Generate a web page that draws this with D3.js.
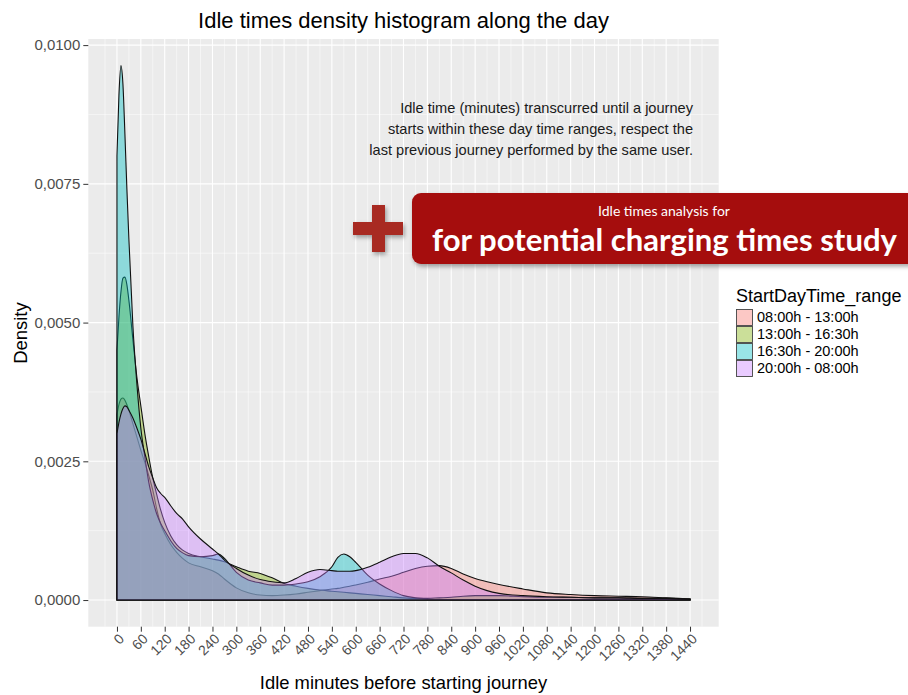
<!DOCTYPE html>
<html lang="en">
<head>
<meta charset="UTF-8">
<title>Idle times density histogram along the day</title>
<script src="https://cdnjs.cloudflare.com/ajax/libs/d3/7.8.5/d3.min.js"></script>
<style>
  body { margin: 0; background: #fff; }
  #chart { width: 908px; height: 695px; }
  text { font-family: "Liberation Sans", Arial, sans-serif; }
  .axis text { fill: #4d4d4d; }
  .axis line { stroke: #333; }
  .axis path { display: none; }
  .grid-major { stroke: #fff; stroke-width: 1.1; }
  .grid-minor { stroke: #fff; stroke-width: 0.55; stroke-opacity: 0.9; }
  .density { stroke: #111; stroke-width: 1.1; fill-opacity: 0.4; }
</style>
</head>
<body>
<div id="chart"></div>
<script>
// categories and colours (ggplot default hues)
var ranges = ["08:00h - 13:00h", "13:00h - 16:30h", "16:30h - 20:00h", "20:00h - 08:00h"];
var colors = ["#F8766D", "#7CAE00", "#00BFC4", "#C77CFF"];

var minutes = [0, 5, 10, 15, 20, 25, 30, 40, 50, 60, 70, 80, 90, 100, 110, 120, 135, 150, 165, 180,
  210, 240, 255, 270, 300, 330, 360, 390, 420, 450, 480, 510, 540, 555, 570, 585, 600, 630, 660, 690,
  720, 750, 780, 810, 840, 870, 900, 930, 960, 1020, 1080, 1140, 1200, 1260, 1320, 1380, 1440];

// density values per range
var dens0813 = [0.00334, 0.00352, 0.00362, 0.00364, 0.00360, 0.00352, 0.00342, 0.00318, 0.00294, 0.00270,
  0.00248, 0.00224, 0.00198, 0.00164, 0.00136, 0.00120, 0.00100, 0.00086, 0.00075, 0.00067,
  0.00060, 0.00053, 0.00047, 0.00038, 0.00022, 0.00013, 0.00009, 0.00008, 0.00009, 0.00011,
  0.00014, 0.00017, 0.00020, 0.00021, 0.00023, 0.00025, 0.00027, 0.00032, 0.00038, 0.00043,
  0.00050, 0.00057, 0.00061, 0.00062, 0.00057, 0.00047, 0.00039, 0.00033, 0.00028, 0.00020,
  0.00013, 0.00010, 0.00008, 0.00007, 0.00006, 0.00004, 0.00002];
var dens1316 = [0.00450, 0.00510, 0.00555, 0.00580, 0.00582, 0.00568, 0.00540, 0.00470, 0.00402, 0.00350,
  0.00300, 0.00258, 0.00220, 0.00190, 0.00162, 0.00140, 0.00116, 0.00100, 0.00090, 0.00084,
  0.00078, 0.00074, 0.00072, 0.00069, 0.00060, 0.00052, 0.00048, 0.00040, 0.00030, 0.00025,
  0.00021, 0.00018, 0.00016, 0.00015, 0.00014, 0.00013, 0.00012, 0.00010, 0.00008, 0.00006,
  0.00004, 0.00003, 0.00003, 0.00004, 0.00005, 0.00007, 0.00008, 0.00008, 0.00008, 0.00006,
  0.00005, 0.00005, 0.00004, 0.00004, 0.00003, 0.00003, 0.00002];
var dens1620 = [0.00800, 0.00910, 0.00963, 0.00930, 0.00840, 0.00740, 0.00650, 0.00495, 0.00390, 0.00310,
  0.00258, 0.00212, 0.00180, 0.00155, 0.00138, 0.00125, 0.00107, 0.00093, 0.00085, 0.00080,
  0.00078, 0.00080, 0.00083, 0.00075, 0.00050, 0.00036, 0.00031, 0.00027, 0.00027, 0.00029,
  0.00033, 0.00042, 0.00060, 0.00077, 0.00083, 0.00078, 0.00068, 0.00045, 0.00029, 0.00017,
  0.00008, 0.00004, 0.00002, 0.00001, 0.00001, 0.00001, 0.00001, 0.00001, 0.00001, 0.00001,
  0.00001, 0.00001, 0.00001, 0.00001, 0.00001, 0.00001, 0.00001];
var dens2008 = [0.00300, 0.00320, 0.00335, 0.00345, 0.00350, 0.00348, 0.00342, 0.00328, 0.00310, 0.00290,
  0.00265, 0.00240, 0.00220, 0.00202, 0.00192, 0.00185, 0.00170, 0.00156, 0.00146, 0.00132,
  0.00110, 0.00092, 0.00083, 0.00072, 0.00057, 0.00045, 0.00037, 0.00033, 0.00031, 0.00039,
  0.00050, 0.00055, 0.00053, 0.00052, 0.00052, 0.00052, 0.00053, 0.00059, 0.00068, 0.00078,
  0.00084, 0.00084, 0.00076, 0.00061, 0.00049, 0.00036, 0.00025, 0.00017, 0.00012, 0.00008,
  0.00006, 0.00005, 0.00004, 0.00004, 0.00003, 0.00003, 0.00002];

// ticks
var xTicks = [0, 60, 120, 180, 240, 300, 360, 420, 480, 540, 600, 660, 720, 780, 840, 900,
  960, 1020, 1080, 1140, 1200, 1260, 1320, 1380, 1440];
var yTicks = [0, 0.0025, 0.005, 0.0075, 0.01];

var note = ["Idle time (minutes) transcurred until a journey",
  "starts within these day time ranges, respect the",
  "last previous journey performed by the same user."];

// panel area
var width = 908, height = 695;
var padLeft = 88.3, padRight = 718.7, padTop = 39, padBottom = 626.7;

var x = d3.scaleLinear().domain([-72, 1512]).range([padLeft, padRight]);
var y = d3.scaleLinear().domain([-0.00048, 0.01011]).range([padBottom, padTop]);

var svg = d3.select("#chart").append("svg")
  .attr("width", width)
  .attr("height", height);

var defs = svg.append("defs");
var shadow = defs.append("filter").attr("id", "shadow")
  .attr("x", "-10%").attr("y", "-20%").attr("width", "130%").attr("height", "150%");
shadow.append("feDropShadow")
  .attr("dx", 1.5).attr("dy", 2.5).attr("stdDeviation", 2)
  .attr("flood-color", "#000").attr("flood-opacity", 0.35);

// panel background
svg.append("rect")
  .attr("x", padLeft).attr("y", padTop)
  .attr("width", padRight - padLeft).attr("height", padBottom - padTop)
  .attr("fill", "#ebebeb");

// grid lines
var xMinor = [];
for (var m = -30; m <= 1500; m += 60) xMinor.push(m);
var yMinor = [0.00125, 0.00375, 0.00625, 0.00875];
var grid = svg.append("g");
grid.selectAll(".vminor").data(xMinor).enter().append("line")
  .attr("class", "grid-minor")
  .attr("x1", function(d){ return x(d); }).attr("x2", function(d){ return x(d); })
  .attr("y1", padTop).attr("y2", padBottom);
grid.selectAll(".hminor").data(yMinor).enter().append("line")
  .attr("class", "grid-minor")
  .attr("y1", function(d){ return y(d); }).attr("y2", function(d){ return y(d); })
  .attr("x1", padLeft).attr("x2", padRight);
grid.selectAll(".vmajor").data(xTicks).enter().append("line")
  .attr("class", "grid-major")
  .attr("x1", function(d){ return x(d); }).attr("x2", function(d){ return x(d); })
  .attr("y1", padTop).attr("y2", padBottom);
grid.selectAll(".hmajor").data(yTicks).enter().append("line")
  .attr("class", "grid-major")
  .attr("y1", function(d){ return y(d); }).attr("y2", function(d){ return y(d); })
  .attr("x1", padLeft).attr("x2", padRight);

// density areas
var series = [dens0813, dens1316, dens1620, dens2008].map(function(vals, i){
  return { name: ranges[i], color: colors[i],
    values: minutes.map(function(mm, j){ return { m: mm, v: vals[j] }; }) };
});

var area = d3.area()
  .x(function(d){ return x(d.m); })
  .y0(y(0))
  .y1(function(d){ return y(d.v); })
  .curve(d3.curveMonotoneX);

svg.append("g").selectAll("path")
  .data(series)
  .enter()
  .append("path")
  .attr("class", "density")
  .attr("fill", function(d){ return d.color; })
  .attr("d", function(d){ return area(d.values); });

// axes
var yAxis = d3.axisLeft(y)
  .tickValues(yTicks)
  .tickSize(5)
  .tickPadding(3)
  .tickFormat(function(d){ return d.toFixed(4).replace(".", ","); });
svg.append("g")
  .attr("class", "axis")
  .attr("transform", "translate(" + padLeft + ",0)")
  .call(yAxis)
  .selectAll("text").style("font-size", "15px");

var xAxis = d3.axisBottom(x)
  .tickValues(xTicks)
  .tickFormat(d3.format("d"))
  .tickSize(5);
svg.append("g")
  .attr("class", "axis")
  .attr("transform", "translate(0," + padBottom + ")")
  .call(xAxis)
  .selectAll("text")
    .attr("x", 0).attr("y", 0).attr("dy", 0)
    .style("font-size", "14px")
    .style("text-anchor", "end")
    .attr("transform", "translate(7.5,13) rotate(-45)");

// titles
svg.append("text")
  .attr("x", (padLeft + padRight) / 2).attr("y", 28)
  .attr("text-anchor", "middle")
  .style("font-size", "22px")
  .text("Idle times density histogram along the day");

svg.append("text")
  .attr("x", (padLeft + padRight) / 2).attr("y", 689)
  .attr("text-anchor", "middle")
  .style("font-size", "18.4px")
  .text("Idle minutes before starting journey");

svg.append("text")
  .attr("transform", "translate(27,333) rotate(-90)")
  .attr("text-anchor", "middle")
  .style("font-size", "18.4px")
  .text("Density");

// annotation
svg.append("g").selectAll("text")
  .data(note)
  .enter()
  .append("text")
  .attr("x", 693)
  .attr("y", function(d, i){ return 113 + 21 * i; })
  .attr("text-anchor", "end")
  .attr("fill", "#1a1a1a")
  .style("font-size", "14.6px")
  .text(function(d){ return d; });

// legend
var legend = svg.append("g").attr("transform", "translate(736,0)");
legend.append("text")
  .attr("x", 0).attr("y", 302)
  .style("font-size", "18px")
  .text("StartDayTime_range");
var rows = legend.selectAll(".row")
  .data(series)
  .enter()
  .append("g")
  .attr("transform", function(d, i){ return "translate(0," + (309 + 17 * i) + ")"; });
rows.append("rect")
  .attr("width", 17).attr("height", 17)
  .attr("fill", "#fff");
rows.append("rect")
  .attr("x", 0.5).attr("y", 0.5)
  .attr("width", 16).attr("height", 16)
  .attr("fill", function(d){ return d.color; })
  .attr("fill-opacity", 0.4)
  .attr("stroke", "#444")
  .attr("stroke-width", 0.9);
rows.append("text")
  .attr("x", 21).attr("y", 13)
  .style("font-size", "14.5px")
  .text(function(d){ return d.name; });

// red banner
var banner = svg.append("g");
banner.append("rect")
  .attr("x", 412).attr("y", 193)
  .attr("width", 520).attr("height", 71)
  .attr("rx", 9)
  .attr("fill", "#a50a0a")
  .attr("filter", "url(#shadow)");
banner.append("text")
  .attr("x", 664).attr("y", 216)
  .attr("text-anchor", "middle")
  .attr("fill", "#fff")
  .style("font-family", "Lato, 'Open Sans', sans-serif")
  .style("font-size", "14px")
  .text("Idle times analysis for");
banner.append("text")
  .attr("x", 432).attr("y", 251)
  .attr("fill", "#fff")
  .attr("textLength", 465)
  .attr("lengthAdjust", "spacingAndGlyphs")
  .style("font-family", "Lato, 'Open Sans', sans-serif")
  .style("font-weight", "bold")
  .style("font-size", "31px")
  .text("for potential charging times study");

// plus sign
var plus = svg.append("g").attr("fill", "#a82a20").attr("filter", "url(#shadow)");
plus.append("rect").attr("x", 353).attr("y", 222).attr("width", 50).attr("height", 13);
plus.append("rect").attr("x", 372).attr("y", 205).attr("width", 13).attr("height", 47);
</script>
</body>
</html>
